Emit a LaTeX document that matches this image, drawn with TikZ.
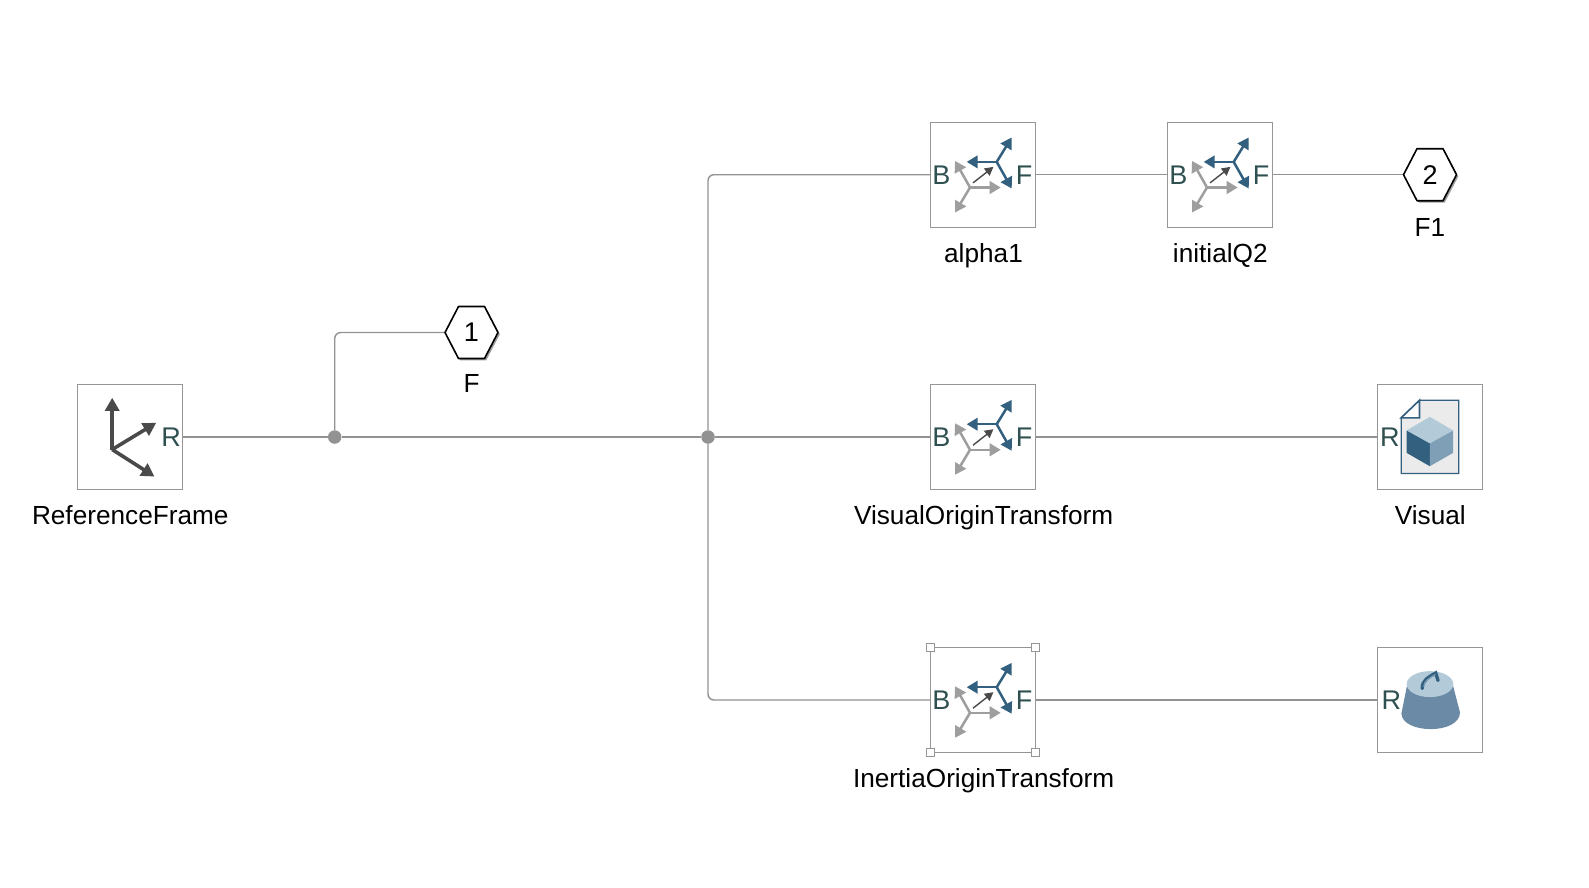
\documentclass[tikz,border=0pt]{standalone}
\usepackage{fontspec}
\setmainfont{Liberation Sans}
\usetikzlibrary{arrows.meta}
\definecolor{wirec}{HTML}{929292}
\definecolor{boxc}{HTML}{969696}
\definecolor{portc}{HTML}{2F5050}
\definecolor{bluec}{HTML}{33607F}
\definecolor{greyc}{HTML}{9E9E9E}
\definecolor{darkc}{HTML}{4A4A4A}
\definecolor{lightb}{HTML}{B3CBD9}
\definecolor{midb}{HTML}{7F9FB6}
\definecolor{bodyb}{HTML}{6A8AA6}
\tikzset{
  blk/.style={draw=boxc,line width=1.3pt,fill=white,minimum size=105pt,inner sep=0pt,outer sep=0pt},
  wire/.style={draw=wirec,line width=1.4pt,rounded corners=6pt},
  junc/.style={circle,fill=wirec,minimum size=13.5pt,inner sep=0pt},
  lab/.style={font=\fontsize{26.2}{26.2}\selectfont,text=black,anchor=base,inner sep=0pt},
  portl/.style={font=\fontsize{27}{27}\selectfont,text=portc,anchor=base,inner sep=0pt},
  hexn/.style={minimum width=53pt,minimum height=52pt,inner sep=0pt,font=\fontsize{27}{27}\selectfont},
  hand/.style={draw=boxc,fill=white,line width=.8pt,minimum size=8pt,inner sep=0pt},
  bluear/.style={draw=bluec,line width=2.5pt,-{Triangle[length=11pt,width=12.5pt,fill=bluec]}},
  greyar/.style={draw=greyc,line width=2.5pt,-{Triangle[length=11pt,width=12.5pt,fill=greyc]}},
  thinar/.style={draw=darkc,line width=1.4pt,-{Triangle[length=8.5pt,width=9pt,fill=darkc]}},
  darkar/.style={draw=darkc,line width=3.6pt,-{Triangle[length=13pt,width=14pt,fill=darkc]}},
}
\newcommand{\xformicon}[1]{%
  \begin{scope}[shift={(#1.north west)}]
    \draw[greyar] (39.3,65.3) -- (24.3,38.7);
    \draw[greyar] (39.3,65.3) -- (70,65.3);
    \draw[greyar] (39.3,65.3) -- (24.3,90.3);
    \draw[bluear] (66,39.7) -- (81,15.3);
    \draw[bluear] (66,39.7) -- (81,66.3);
    \draw[bluear] (66,39.7) -- (36,39.7);
    \draw[thinar] (42.3,60.7) -- (62.7,44.7);
    \node[portl] (#1B) at (10.7,62) {B};
    \node[portl] (#1F) at (93.3,62) {F};
  \end{scope}}
\newcommand{\hexdraw}[1]{%
  \begin{scope}[shift={(#1.center)}]
    \fill[black!38,shift={(1.8,1.8)}] (-26.5,0) -- (-13,-26) -- (13,-26) -- (26.5,0) -- (13,26) -- (-13,26) -- cycle;
    \draw[black,line width=1.6pt,fill=white,line join=round] (-26.5,0) -- (-13,-26) -- (13,-26) -- (26.5,0) -- (13,26) -- (-13,26) -- cycle;
  \end{scope}}
\begin{document}
\begin{tikzpicture}[x=1pt,y=-1pt]
\useasboundingbox (0,0) rectangle (1589,887);
\fill[white] (0,0) rectangle (1589,887);
% blocks
\node[blk] (ref) at (130.3,437) {};
\node[blk] (alpha) at (983.2,174.7) {};
\node[blk] (initq) at (1220.2,174.7) {};
\node[blk] (vot) at (983.2,437) {};
\node[blk] (vis) at (1430,437) {};
\node[blk] (iot) at (983.2,700) {};
\node[blk] (mass) at (1430.2,700) {};
% port hexagons and junctions
\node[hexn] (h1) at (471.5,332.5) {};
\node[hexn] (h2) at (1430,174.7) {};
\node[junc] (j1) at (334.7,437) {};
\node[junc] (j2) at (708,437) {};
% connectors
\draw[wire] (ref.east) -- (j1);
\draw[wire] (j1) -- (j2);
\draw[wire] (j2) -- (vot.west);
\draw[wire] (j1) |- (h1.west);
\draw[wire] (j2) |- (alpha.west);
\draw[wire] (j2) |- (iot.west);
\draw[wire] (alpha.east) -- (initq.west);
\draw[wire] (initq.east) -- (h2.west);
\draw[wire] (vot.east) -- (vis.west);
\draw[wire] (iot.east) -- (mass.west);
% hexagons
\hexdraw{h1}
\hexdraw{h2}
\node[hexn] (h1t) at (h1.center) {1};
\node[hexn] (h2t) at (h2.center) {2};
% transform icons
\xformicon{alpha}
\xformicon{initq}
\xformicon{vot}
\xformicon{iot}
% selection handles
\node[hand] (s1) at (iot.north west) {};
\node[hand] (s2) at (iot.north east) {};
\node[hand] (s3) at (iot.south west) {};
\node[hand] (s4) at (iot.south east) {};
% reference frame icon
\begin{scope}[shift={(ref.north west)}]
  \draw[darkar] (34.4,65) -- (34.4,13.3);
  \draw[darkar] (34.4,65) -- (78.4,38.3);
  \draw[darkar] (34.4,65) -- (76.7,92);
  \node[portl] (refR) at (93.4,62) {R};
\end{scope}
% visual icon
\begin{scope}[shift={(vis.north west)}]
  \draw[draw=bluec,line width=1.2pt,fill=black!8] (23.7,33.3) -- (42,15.7) -- (81.3,15.7) -- (81.3,89) -- (23.7,89) -- cycle;
  \draw[draw=bluec,line width=1.6pt,fill=white] (23.7,33.3) -- (42,33.3) -- (42,15.7) -- cycle;
  \fill[lightb] (52.3,32.3) -- (75.7,46) -- (52.3,59) -- (29,46) -- cycle;
  \fill[bluec] (29,46) -- (52.3,59) -- (52.3,81.7) -- (29,68.3) -- cycle;
  \fill[midb] (75.7,46) -- (52.3,59) -- (52.3,81.7) -- (75.7,68.3) -- cycle;
  \node[portl] (visR) at (12.3,62) {R};
\end{scope}
% inertia icon
\begin{scope}[shift={(mass.north west)}]
  \fill[bodyb] (29.5,37) -- (75,37) -- (82.3,65) .. controls (82,76) and (68,81.6) .. (53,81.6) .. controls (38,81.6) and (24,76) .. (23.7,66) -- cycle;
  \fill[lightb] (52.3,36.6) ellipse [x radius=23.3pt,y radius=13pt];
  \draw[bluec,line width=3.4pt,line cap=round] (44.5,41) .. controls (44.5,33) and (50,30) .. (58,25.5) -- (60.3,33);
  \draw[midb,line width=1pt,line cap=round] (46,39) .. controls (46.5,33) and (51,31) .. (57.5,27);
  \node[portl] (massR) at (13.7,62) {R};
\end{scope}
% labels
\node[lab] (lref) at (130.3,524.5) {ReferenceFrame};
\node[lab] (lf) at (471.5,392.5) {F};
\node[lab] (la) at (983.5,262.5) {alpha1};
\node[lab] (li) at (1220.3,262.5) {initialQ2};
\node[lab] (lf1) at (1430,236) {F1};
\node[lab] (lvo) at (983.6,524.5) {VisualOriginTransform};
\node[lab] (lv) at (1430.3,524.5) {Visual};
\node[lab] (lio) at (983.6,787.5) {InertiaOriginTransform};
\end{tikzpicture}
\end{document}
